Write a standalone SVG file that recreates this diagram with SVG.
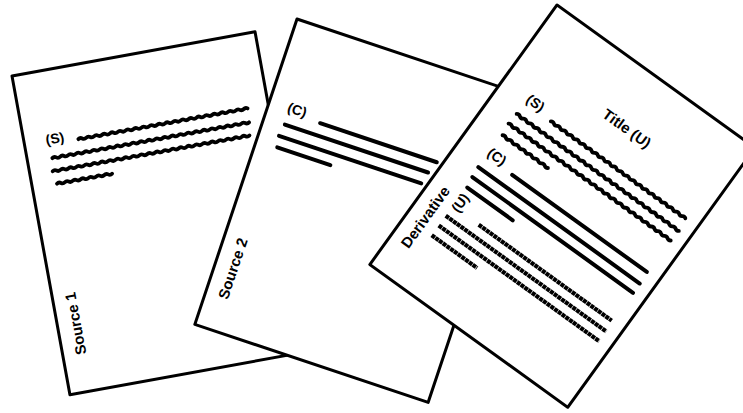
<svg xmlns="http://www.w3.org/2000/svg" xmlns:xlink="http://www.w3.org/1999/xlink" width="743" height="413" viewBox="0 0 743 413">
<style>
.page{fill:#fff;stroke:#000;stroke-width:3;stroke-linejoin:round}
.t{font-family:"Liberation Sans",Arial,sans-serif;font-weight:bold;fill:#000;text-anchor:middle;dominant-baseline:central}
.lbl{font-size:14px}
.side{font-size:15px}
.wv{fill:none;stroke:#000;stroke-width:3.8;stroke-linecap:round;stroke-linejoin:round}
.ln{fill:none;stroke:#000;stroke-width:4;stroke-linecap:round}
.hl{fill:none;stroke:#000;stroke-width:4.2;stroke-dasharray:4 0.6}
</style>
<defs>
<path id="w200" class="wv" d="M0,0q2,-1.5 4,0t4,0t4,0t4,0t4,0t4,0t4,0t4,0t4,0t4,0t4,0t4,0t4,0t4,0t4,0t4,0t4,0t4,0t4,0t4,0t4,0t4,0t4,0t4,0t4,0t4,0t4,0t4,0t4,0t4,0t4,0t4,0t4,0t4,0t4,0t4,0t4,0t4,0t4,0t4,0t4,0t4,0t4,0t4,0t4,0t4,0t4,0t4,0t4,0t4,0"/>
<path id="w172" class="wv" d="M0,0q2,-1.5 4,0t4,0t4,0t4,0t4,0t4,0t4,0t4,0t4,0t4,0t4,0t4,0t4,0t4,0t4,0t4,0t4,0t4,0t4,0t4,0t4,0t4,0t4,0t4,0t4,0t4,0t4,0t4,0t4,0t4,0t4,0t4,0t4,0t4,0t4,0t4,0t4,0t4,0t4,0t4,0t4,0t4,0t4,0"/>
<path id="w56" class="wv" d="M0,0q2,-1.5 4,0t4,0t4,0t4,0t4,0t4,0t4,0t4,0t4,0t4,0t4,0t4,0t4,0t4,0"/>
</defs>

<g id="source1" transform="translate(12,76) rotate(-10.3)">
<rect class="page" x="0" y="0" width="247" height="324"/>
<text class="t lbl" x="31" y="69">(S)</text>
<use xlink:href="#w172" href="#w172" x="54" y="74"/>
<use xlink:href="#w200" href="#w200" x="25" y="88"/>
<use xlink:href="#w200" href="#w200" x="23" y="101"/>
<use xlink:href="#w56" href="#w56" x="25" y="114"/>
<text class="t side" transform="translate(18,255) rotate(-90)">Source 1</text>
</g>

<g id="source2" transform="translate(297,19) rotate(18.5)">
<rect class="page" x="0" y="0" width="246" height="322"/>
<text class="t lbl" x="29" y="86">(C)</text>
<path class="ln" d="M55,91.5H178M22,104H173M20,116.5H170M22,128H78"/>
<text class="t side" transform="translate(18,257) rotate(-90)">Source 2</text>
</g>

<g id="derivative" transform="translate(557,5) rotate(35.8)">
<rect class="page" x="0" y="0" width="244" height="320"/>
<text class="t lbl" x="40" y="92">(S)</text>
<text class="t side" x="129" y="59">Title (U)</text>
<use xlink:href="#w172" href="#w172" transform="translate(63,98) scale(0.965,1)"/>
<use xlink:href="#w200" href="#w200" x="31" y="112"/>
<use xlink:href="#w200" href="#w200" x="30" y="124.5"/>
<use xlink:href="#w56" href="#w56" x="32" y="137.5"/>
<text class="t lbl" x="40" y="158">(C)</text>
<path class="ln" d="M63,164H229M31,177.5H230M32,189H230M34,200.5H90"/>
<text class="t lbl" transform="translate(37,217) rotate(-90)">(U)</text>
<path class="hl" d="M65,224H229M33,236H231M33,248H231M33,260H89"/>
<text class="t side" transform="translate(17,249) rotate(-90)">Derivative</text>
</g>
</svg>
